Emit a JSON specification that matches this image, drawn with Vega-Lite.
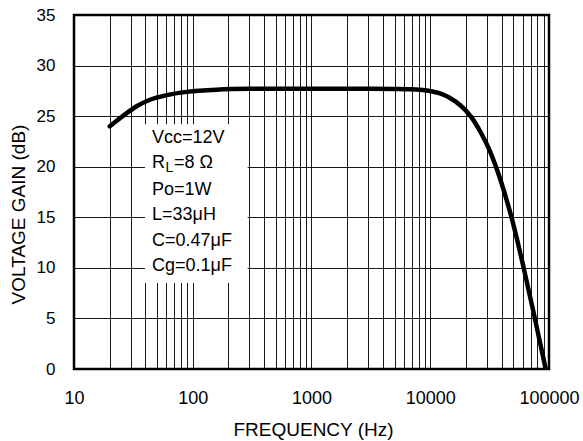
{
  "$schema": "https://vega.github.io/schema/vega-lite/v6.json",
  "width": 475,
  "height": 354,
  "autosize": "none",
  "padding": {"left": 74, "top": 15, "right": 34, "bottom": 72},
  "background": "white",
  "config": {
    "font": "Liberation Sans",
    "view": {"stroke": "#000", "strokeWidth": 2.5}
  },
  "datasets": {
    "curve": [
      {"f": 20, "g": 24.0},
      {"f": 22.9, "g": 24.55},
      {"f": 27.8, "g": 25.3},
      {"f": 33.7, "g": 25.98},
      {"f": 43.6, "g": 26.62},
      {"f": 60.4, "g": 27.08},
      {"f": 89, "g": 27.4},
      {"f": 158, "g": 27.62},
      {"f": 303, "g": 27.7},
      {"f": 1000, "g": 27.72},
      {"f": 3000, "g": 27.71},
      {"f": 5000, "g": 27.68},
      {"f": 6500, "g": 27.66},
      {"f": 8200, "g": 27.62},
      {"f": 9950, "g": 27.49},
      {"f": 12080, "g": 27.24},
      {"f": 14670, "g": 26.79},
      {"f": 17810, "g": 26.1},
      {"f": 22030, "g": 24.96},
      {"f": 27130, "g": 23.21},
      {"f": 31860, "g": 21.52},
      {"f": 35580, "g": 20.06},
      {"f": 39970, "g": 18.31},
      {"f": 44560, "g": 16.48},
      {"f": 48530, "g": 14.92},
      {"f": 54300, "g": 12.63},
      {"f": 60760, "g": 10.16},
      {"f": 74750, "g": 5.4},
      {"f": 93800, "g": 0.0}
    ],
    "box": [{"f1": 39.6, "f2": 290, "g1": 8.5, "g2": 24.2}],
    "notes": [
      {"f": 45.4, "g": 22.39, "t": "Vcc=12V"},
      {"f": 45.4, "g": 19.87, "t": "R"},
      {"f": 69.5, "g": 19.87, "t": "=8 Ω"},
      {"f": 45.4, "g": 17.25, "t": "Po=1W"},
      {"f": 45.4, "g": 14.73, "t": "L=33μH"},
      {"f": 45.4, "g": 12.21, "t": "C=0.47μF"},
      {"f": 45.4, "g": 9.69, "t": "Cg=0.1μF"}
    ],
    "subs": [{"f": 58.9, "g": 19.51, "t": "L"}]
  },
  "layer": [
    {
      "data": {"name": "box"},
      "mark": {"type": "rect", "fill": "white", "stroke": null},
      "encoding": {
        "x": {
          "field": "f1", "type": "quantitative",
          "scale": {"type": "log", "domain": [10, 100000]},
          "axis": {
            "title": "FREQUENCY (Hz)",
            "values": [10,20,30,40,50,60,70,80,90,100,200,300,400,500,600,700,800,900,1000,2000,3000,4000,5000,6000,7000,8000,9000,10000,20000,30000,40000,50000,60000,70000,80000,90000,100000],
            "format": "d",
            "labelExpr": "(datum.value == 10 || datum.value == 100 || datum.value == 1000 || datum.value == 10000 || datum.value == 100000) ? datum.label : ''",
            "grid": true, "gridColor": "#000", "gridWidth": 1, "gridOpacity": 0.9,
            "domain": false, "ticks": false, "tickSize": 0,
            "labelPadding": 20, "labelFontSize": 18, "labelColor": "#000",
            "labelOverlap": false, "labelFlush": false, "labelBound": false,
            "titleFontSize": 19, "titleFontWeight": "normal", "titleColor": "#000",
            "titleBaseline": "alphabetic", "titleY": 66, "titleX": 239
          }
        },
        "x2": {"field": "f2"},
        "y": {
          "field": "g1", "type": "quantitative",
          "scale": {"domain": [0, 35]},
          "axis": {
            "title": "VOLTAGE GAIN (dB)",
            "values": [0, 5, 10, 15, 20, 25, 30, 35],
            "grid": true, "gridColor": "#000", "gridWidth": 1, "gridOpacity": 0.9,
            "domain": false, "ticks": false, "tickSize": 0,
            "labelPadding": 19, "labelFontSize": 17, "labelColor": "#000",
            "labelFlush": false, "labelBound": false,
            "titleFontSize": 19, "titleFontWeight": "normal", "titleColor": "#000",
            "titleAngle": 270, "titleBaseline": "alphabetic", "titleX": -50, "titleY": 199
          }
        },
        "y2": {"field": "g2"}
      }
    },
    {
      "data": {"name": "curve"},
      "mark": {"type": "line", "color": "#000", "strokeWidth": 4.5, "interpolate": "monotone", "strokeCap": "round", "clip": true},
      "encoding": {
        "x": {"field": "f", "type": "quantitative", "scale": {"type": "log"}},
        "y": {"field": "g", "type": "quantitative"}
      }
    },
    {
      "data": {"name": "notes"},
      "mark": {"type": "text", "align": "left", "baseline": "alphabetic", "fontSize": 18, "color": "#000"},
      "encoding": {
        "x": {"field": "f", "type": "quantitative", "scale": {"type": "log"}},
        "y": {"field": "g", "type": "quantitative"},
        "text": {"field": "t"}
      }
    },
    {
      "data": {"name": "subs"},
      "mark": {"type": "text", "align": "left", "baseline": "alphabetic", "fontSize": 14, "color": "#000"},
      "encoding": {
        "x": {"field": "f", "type": "quantitative", "scale": {"type": "log"}},
        "y": {"field": "g", "type": "quantitative"},
        "text": {"field": "t"}
      }
    }
  ]
}
